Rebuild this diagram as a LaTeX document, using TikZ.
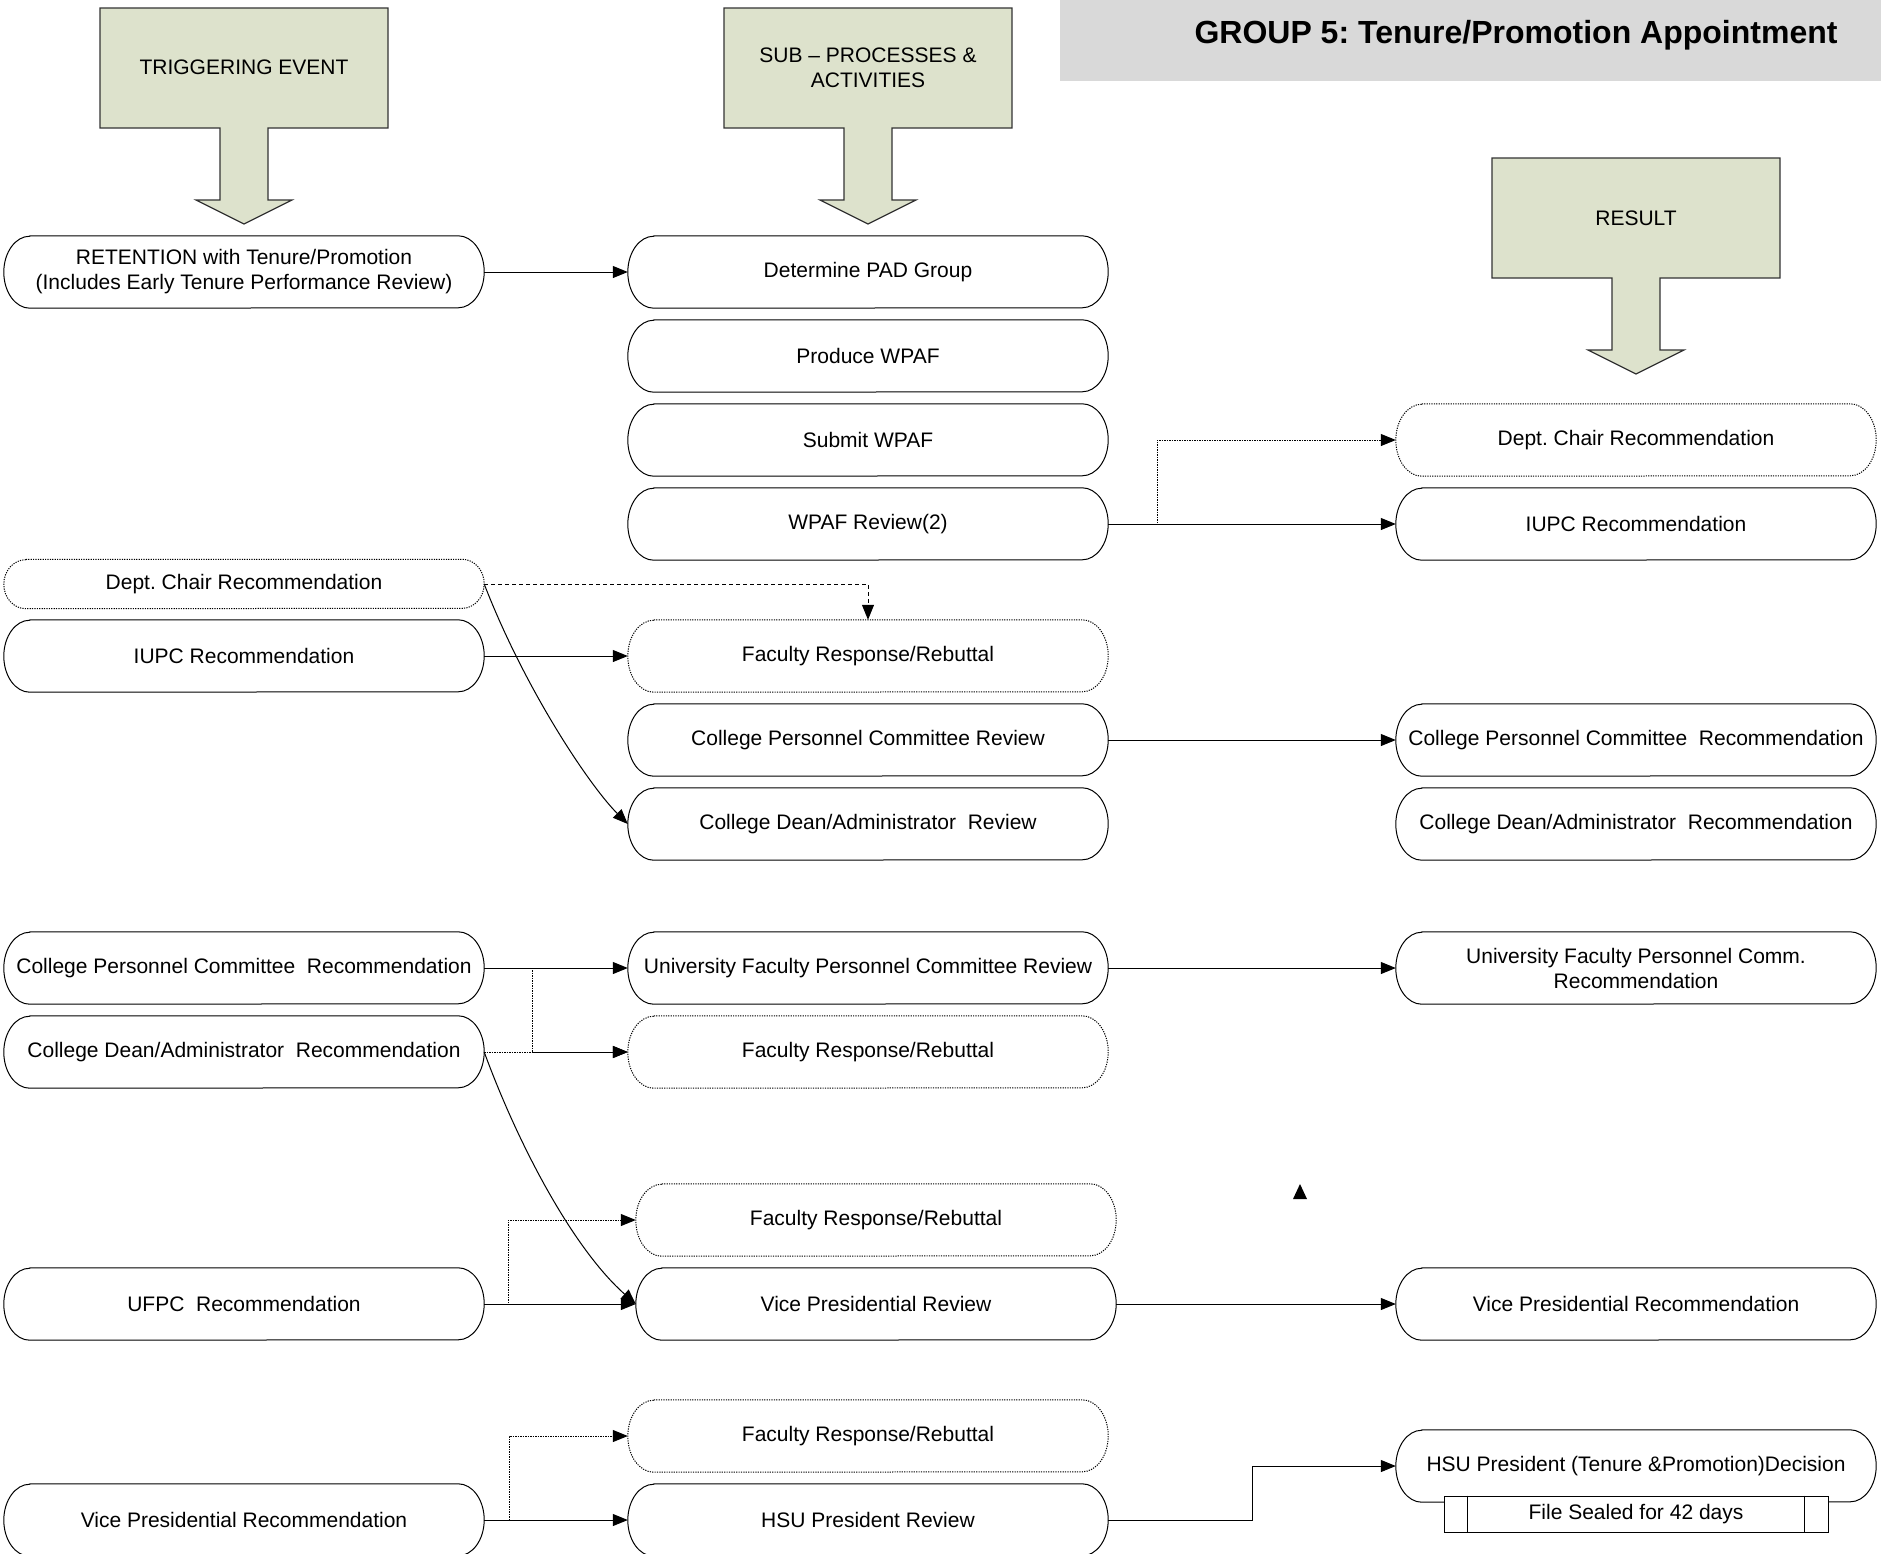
\documentclass[tikz,border=0pt]{standalone}
\usepackage{fontspec}
\setmainfont{Liberation Sans}
\usetikzlibrary{arrows.meta}
\frenchspacing
\definecolor{hdrfill}{RGB}{221,226,204}
\definecolor{titlefill}{RGB}{217,217,217}
% outline of a stadium-like box drawn around a named node
\newcommand\stadpath[4][]{%
  \draw[#1] ([xshift=#3]#2.north west) -- ([xshift=-#3]#2.north east)
    arc[start angle=90,end angle=-90,x radius=#3,y radius=#4]
    -- ([xshift=#3]#2.south west)
    arc[start angle=270,end angle=90,x radius=#3,y radius=#4] -- cycle;}
% header box with down arrow: centre x, top y
\newcommand\hdrshape[2]{%
  \filldraw[hdrshape] (#1-144,#2) -- (#1+144,#2) -- (#1+144,#2+120) -- (#1+24,#2+120)
    -- (#1+24,#2+192) -- (#1+48,#2+192) -- (#1,#2+216) -- (#1-48,#2+192)
    -- (#1-24,#2+192) -- (#1-24,#2+120) -- (#1-144,#2+120) -- cycle;}
\begin{document}
\begin{tikzpicture}[x=1pt,y=-1pt,
  box/.style={rectangle,draw=none,minimum width=480pt,minimum height=72pt,inner sep=0pt,
    align=center,font=\fontsize{21}{25}\selectfont},
  smallbox/.style={box,minimum height=49pt},
  solidline/.style={draw=black,line width=1pt},
  dotline/.style={draw=black,line width=1pt,dash pattern=on 1.2pt off 1.2pt},
  conn/.style={line width=1pt,-{Triangle[length=15pt,width=12pt]}},
  dotconn/.style={conn,dash pattern=on 1.5pt off 1pt},
  dashconn/.style={conn,dash pattern=on 4pt off 3pt},
  hdrshape/.style={fill=hdrfill,draw=black!80,line width=1.2pt},
  hdrtext/.style={align=center,font=\fontsize{21}{25}\selectfont,inner sep=0pt},
  sealbox/.style={draw=black,fill=white,line width=1pt,minimum width=384pt,minimum height=36pt,
    inner sep=0pt,font=\fontsize{21}{25}\selectfont},
]
\useasboundingbox (0,0) rectangle (1881,1553);

% title band
\fill[titlefill] (1060,0) rectangle (1881,81);
\node[font=\fontsize{32}{36}\selectfont\bfseries,inner sep=0pt] (title) at (1516,35) {GROUP 5: Tenure/Promotion Appointment};

% headers
\hdrshape{244}{8}
\hdrshape{868}{8}
\hdrshape{1636}{158}
\node[hdrtext] (trig) at (244,67) {TRIGGERING EVENT};
\node[hdrtext] (subp) at (868,68) {SUB -- PROCESSES \&\\ACTIVITIES};
\node[hdrtext] (res) at (1636,218) {RESULT};

% left column
\node[box] (L1) at (244,272) {RETENTION with Tenure/Promotion\\(Includes Early Tenure Performance Review)};
\node[smallbox] (L2) at (244,584) {Dept. Chair Recommendation};
\node[box] (L3) at (244,656) {IUPC Recommendation};
\node[box] (L4) at (244,968) {College Personnel Committee~ Recommendation};
\node[box] (L5) at (244,1052) {College Dean/Administrator~ Recommendation};
\node[box] (L6) at (244,1304) {UFPC~ Recommendation};
\node[box] (L7) at (244,1520) {Vice Presidential Recommendation};

% middle column
\node[box] (M1) at (868,272) {Determine PAD Group};
\node[box] (M2) at (868,356) {Produce WPAF};
\node[box] (M3) at (868,440) {Submit WPAF};
\node[box] (M4) at (868,524) {WPAF Review(2)};
\node[box] (M5) at (868,656) {Faculty Response/Rebuttal};
\node[box] (M6) at (868,740) {College Personnel Committee Review};
\node[box] (M7) at (868,824) {College Dean/Administrator~ Review};
\node[box] (M8) at (868,968) {University Faculty Personnel Committee Review};
\node[box] (M9) at (868,1052) {Faculty Response/Rebuttal};
\node[box] (M10) at (876,1220) {Faculty Response/Rebuttal};
\node[box] (M11) at (876,1304) {Vice Presidential Review};
\node[box] (M12) at (868,1436) {Faculty Response/Rebuttal};
\node[box] (M13) at (868,1520) {HSU President Review};

% right column
\node[box] (R1) at (1636,440) {Dept. Chair Recommendation};
\node[box] (R2) at (1636,524) {IUPC Recommendation};
\node[box] (R3) at (1636,740) {College Personnel Committee~ Recommendation};
\node[box] (R4) at (1636,824) {College Dean/Administrator~ Recommendation};
\node[box] (R5) at (1636,968) {University Faculty Personnel Comm.\\Recommendation};
\node[box] (R6) at (1636,1304) {Vice Presidential Recommendation};
\node[box] (R7) at (1636,1466) {HSU President (Tenure \&Promotion)Decision};

% outlines
\foreach \n in {L1,L3,L4,L5,L6,L7,M1,M2,M3,M4,M6,M7,M8,M11,M13,R2,R3,R4,R5,R6,R7}
  {\stadpath[solidline]{\n}{26pt}{36pt}}
\foreach \n in {M5,M9,M10,M12,R1}
  {\stadpath[dotline]{\n}{26pt}{36pt}}
\stadpath[dotline]{L2}{22pt}{24.5pt}

% sealed file box
\node[sealbox] (seal) at (1636,1514) {File Sealed for 42 days};
\draw[line width=1pt] ([xshift=24pt]seal.north west) -- ([xshift=24pt]seal.south west);
\draw[line width=1pt] ([xshift=-24pt]seal.north east) -- ([xshift=-24pt]seal.south east);

% connectors
\draw[conn] (L1.east) -- (M1.west);
\draw[conn] (M4.east) -- (R2.west);
\draw[dotconn] (M4.east) -- ++(49,0) |- (R1.west);
\draw[dashconn] (L2.east) -| (M5.north);
\draw[conn] (L2.east) .. controls +(41,106) and +(-38,-38) .. (M7.west);
\draw[conn] (L3.east) -- (M5.west);
\draw[conn] (M6.east) -- (R3.west);
\draw[conn] (L4.east) -- (M8.west);
\draw[dotconn] (L4.east) -- ++(48,0) |- (M9.west);
\draw[dotconn] (L5.east) -- (M9.west);
\draw[conn] (L5.east) .. controls +(36,98) and +(-61,-54) .. (M11.west);
\draw[conn] (M8.east) -- (R5.west);
\draw[conn] (L6.east) -- (M11.west);
\draw[dotconn] (L6.east) -- ++(24,0) |- (M10.west);
\draw[conn] (M11.east) -- (R6.west);
\draw[conn] (L7.east) -- (M13.west);
\draw[dotconn] (L7.east) -- ++(25,0) |- (M12.west);
\draw[conn] (M13.east) -- ++(144,0) |- (R7.west);

% stray arrowhead
\fill (1300,1184) -- (1307,1199) -- (1293,1199) -- cycle;
\end{tikzpicture}
\end{document}
